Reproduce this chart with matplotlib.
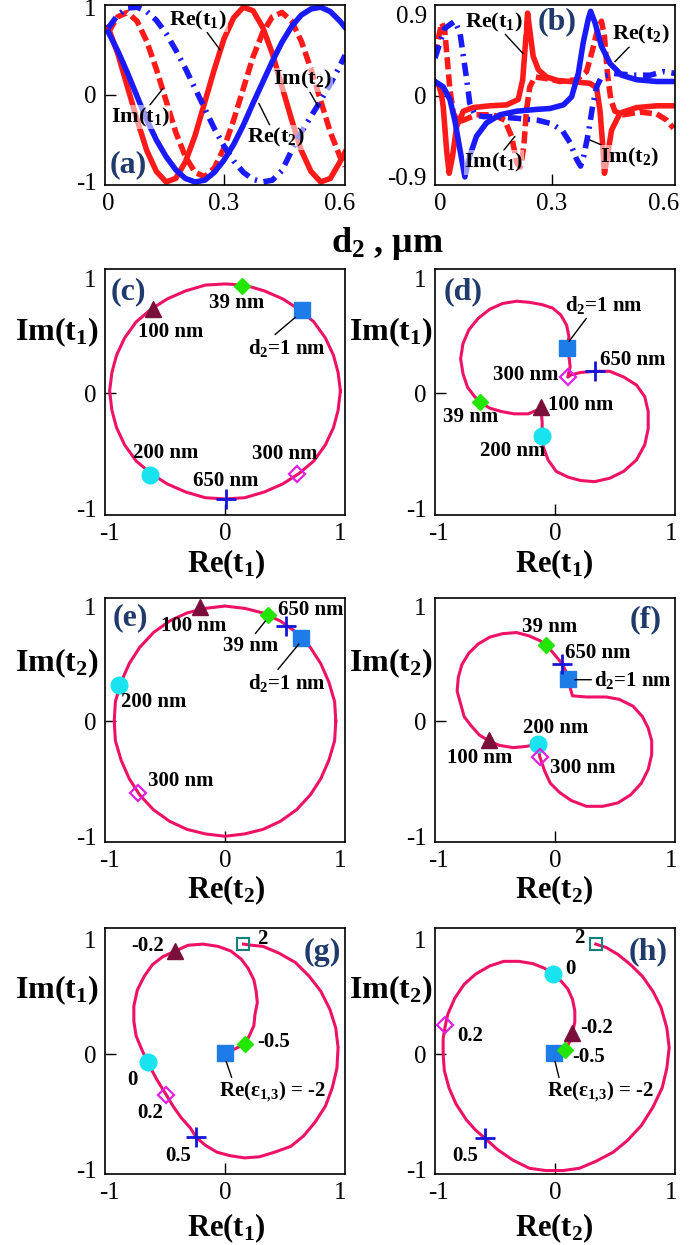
import matplotlib
matplotlib.use("Agg")
import matplotlib.pyplot as plt

plt.rcParams['font.family'] = ['Liberation Serif', 'DejaVu Serif']
plt.rcParams['mathtext.fontset'] = 'custom'
plt.rcParams['mathtext.rm'] = 'Liberation Serif'
plt.rcParams['mathtext.bf'] = 'Liberation Serif:bold'
plt.rcParams['mathtext.it'] = 'Liberation Serif:italic'
plt.rcParams['axes.unicode_minus'] = False

# ---- panel (a): t1, t2 vs d2 (first case)
a_x = [0, 0.025, 0.05, 0.075, 0.1, 0.125, 0.15, 0.175, 0.2, 0.225, 0.25, 0.275, 0.3,
       0.325, 0.35, 0.375, 0.4, 0.425, 0.45, 0.475, 0.5, 0.525, 0.55, 0.575, 0.6, 0.613]
a_re1 = [0.77, 0.47, 0.09, -0.29, -0.64, -0.88, -1.00, -0.96, -0.77, -0.47, -0.09, 0.29, 0.64,
         0.88, 1.00, 0.96, 0.77, 0.47, 0.09, -0.29, -0.64, -0.88, -1.00, -0.96, -0.77, -0.66]
a_im1 = [0.71, 0.89, 0.94, 0.84, 0.61, 0.29, -0.07, -0.43, -0.71, -0.89, -0.94, -0.84, -0.61,
         -0.29, 0.07, 0.43, 0.71, 0.89, 0.94, 0.84, 0.61, 0.29, -0.07, -0.43, -0.71, -0.82]
a_re2 = [0.72, 0.50, 0.25, -0.02, -0.29, -0.52, -0.71, -0.86, -0.96, -1.00, -0.98, -0.89, -0.75,
         -0.57, -0.35, -0.10, 0.14, 0.38, 0.60, 0.78, 0.91, 0.98, 1.00, 0.95, 0.84, 0.77]
a_im2 = [0.76, 0.91, 0.99, 1.00, 0.95, 0.85, 0.70, 0.51, 0.30, 0.07, -0.16, -0.39, -0.59,
         -0.76, -0.89, -0.97, -1.00, -0.98, -0.87, -0.64, -0.43, -0.25, -0.07, 0.12, 0.33, 0.45]

# ---- panel (b): t1, t2 vs d2 (resonant case)
b_re1_x = [-0.013, -0.003, 0.004, 0.009, 0.018, 0.025, 0.034, 0.045, 0.063, 0.089, 0.134, 0.179,
           0.210, 0.222, 0.230, 0.235, 0.241, 0.250, 0.264, 0.286, 0.317, 0.349, 0.402, 0.420,
           0.429, 0.436, 0.441, 0.449, 0.460, 0.483, 0.527, 0.581, 0.630]
b_re1_y = [0.15, 0.12, 0.02, -0.12, -0.60, -0.86, -0.67, -0.34, -0.17, -0.13, -0.11, -0.10,
           -0.04, 0.18, 0.62, 0.92, 0.73, 0.44, 0.29, 0.21, 0.17, 0.16, 0.14, 0.09,
           -0.16, -0.53, -0.86, -0.67, -0.38, -0.19, -0.13, -0.11, -0.11]
b_im1_x = [-0.013, -0.005, 0.005, 0.013, 0.020, 0.027, 0.036, 0.049, 0.063, 0.098, 0.143, 0.174,
           0.192, 0.207, 0.216, 0.225, 0.232, 0.241, 0.255, 0.290, 0.322, 0.366, 0.393, 0.409,
           0.422, 0.433, 0.441, 0.449, 0.458, 0.469, 0.491, 0.536, 0.581, 0.608, 0.626]
b_im1_y = [0.44, 0.62, 0.81, 0.73, 0.40, 0.07, -0.19, -0.29, -0.27, -0.21, -0.21, -0.27,
           -0.45, -0.75, -0.79, -0.56, -0.16, 0.10, 0.21, 0.19, 0.16, 0.18, 0.27, 0.51,
           0.73, 0.83, 0.66, 0.25, -0.04, -0.17, -0.21, -0.18, -0.20, -0.27, -0.36]
b_re2_x = [-0.013, 0.009, 0.027, 0.040, 0.054, 0.067, 0.080, 0.098, 0.125, 0.161, 0.206, 0.259,
           0.295, 0.331, 0.353, 0.371, 0.384, 0.398, 0.404, 0.416, 0.433, 0.456, 0.487, 0.527,
           0.581, 0.630]
b_re2_y = [0.16, 0.10, -0.04, -0.27, -0.60, -0.90, -0.67, -0.45, -0.30, -0.21, -0.17, -0.15,
           -0.14, -0.10, -0.01, 0.25, 0.59, 0.86, 0.94, 0.81, 0.55, 0.36, 0.23, 0.18,
           0.16, 0.16]
b_im2_x = [-0.013, 0.0, 0.013, 0.040, 0.054, 0.063, 0.072, 0.080, 0.094, 0.116, 0.152, 0.210,
           0.262, 0.300, 0.329, 0.349, 0.366, 0.377, 0.386, 0.398, 0.409, 0.420, 0.433, 0.465,
           0.518, 0.563, 0.599, 0.630]
b_im2_y = [0.42, 0.59, 0.75, 0.83, 0.70, 0.44, 0.18, -0.08, -0.21, -0.23, -0.23, -0.25,
           -0.27, -0.31, -0.39, -0.52, -0.70, -0.78, -0.66, -0.41, -0.12, 0.10, 0.21, 0.25,
           0.23, 0.23, 0.27, 0.25]

# ---- panels (c)-(f): complex-plane trajectories vs d2
c_x = [1.00, 0.98, 0.94, 0.87, 0.77, 0.64, 0.50, 0.34, 0.17, 0.00, -0.17, -0.34, -0.50,
       -0.64, -0.77, -0.87, -0.94, -0.98, -1.00, -0.98, -0.94, -0.87, -0.77, -0.64, -0.50,
       -0.34, -0.17, 0.00, 0.17, 0.34, 0.50, 0.64, 0.77, 0.87, 0.94, 0.98, 1.00]
c_y = [0.02, 0.18, 0.33, 0.48, 0.62, 0.73, 0.82, 0.89, 0.94, 0.95, 0.94, 0.89, 0.82,
       0.73, 0.62, 0.48, 0.33, 0.18, 0.02, -0.15, -0.30, -0.45, -0.59, -0.70, -0.79,
       -0.86, -0.91, -0.92, -0.91, -0.86, -0.79, -0.70, -0.59, -0.45, -0.30, -0.15, 0.02]
c_mx = [0.67, 0.15, -0.62, -0.65, 0.62, 0.01]
c_my = [0.72, 0.93, 0.73, -0.71, -0.70, -0.92]

d_x = [0.10, 0.12, 0.10, 0.05, -0.02, -0.11, -0.22, -0.33, -0.45, -0.56, -0.66, -0.74, -0.79,
       -0.81, -0.79, -0.75, -0.69, -0.64, -0.56, -0.46, -0.35, -0.23, -0.16, -0.12, -0.11,
       -0.11, -0.10, -0.06, 0.01, 0.11, 0.22, 0.34, 0.47, 0.59, 0.70, 0.77, 0.80, 0.80, 0.77,
       0.70, 0.59, 0.47, 0.34, 0.22, 0.14, 0.11, 0.13, 0.12, 0.10]
d_y = [0.39, 0.49, 0.59, 0.68, 0.74, 0.77, 0.79, 0.80, 0.78, 0.73, 0.65, 0.55, 0.43,
       0.30, 0.17, 0.05, -0.03, -0.08, -0.13, -0.16, -0.18, -0.18, -0.15, -0.13, -0.26,
       -0.37, -0.47, -0.58, -0.68, -0.73, -0.76, -0.77, -0.74, -0.68, -0.58, -0.45, -0.31, -0.16, -0.03,
       0.07, 0.14, 0.19, 0.19, 0.18, 0.16, 0.14, 0.23, 0.32, 0.39]
d_mx = [0.10, -0.64, -0.12, -0.11, 0.11, 0.34]
d_my = [0.39, -0.08, -0.12, -0.37, 0.14, 0.19]

e_x = [0.96, 0.95, 0.90, 0.83, 0.74, 0.62, 0.48, 0.33, 0.17, 0.00, -0.17, -0.33, -0.48,
       -0.62, -0.74, -0.83, -0.90, -0.95, -0.96, -0.95, -0.90, -0.83, -0.74, -0.62, -0.48,
       -0.33, -0.17, 0.00, 0.17, 0.33, 0.48, 0.62, 0.74, 0.83, 0.90, 0.95, 0.96]
e_y = [0.00, 0.17, 0.34, 0.50, 0.64, 0.77, 0.87, 0.94, 0.98, 1.00, 0.98, 0.94, 0.87,
       0.77, 0.64, 0.50, 0.34, 0.17, 0.00, -0.17, -0.34, -0.50, -0.64, -0.77, -0.87,
       -0.94, -0.98, -1.00, -0.98, -0.94, -0.87, -0.77, -0.64, -0.50, -0.34, -0.17, 0.00]
e_mx = [0.66, 0.37, -0.22, -0.92, -0.75, 0.53]
e_my = [0.72, 0.92, 0.99, 0.31, -0.62, 0.83]

f_x = [0.11, 0.13, 0.15, 0.27, 0.44, 0.55, 0.67, 0.75, 0.80, 0.83, 0.83, 0.80, 0.74, 0.65,
       0.54, 0.41, 0.27, 0.14, 0.04, -0.04, -0.09, -0.13, -0.15, -0.25, -0.36, -0.48, -0.57,
       -0.65, -0.72, -0.78, -0.81, -0.84, -0.83, -0.80, -0.74, -0.66, -0.56, -0.45, -0.33,
       -0.22, -0.13, -0.08, -0.03, 0.06, 0.09, 0.11]
f_y = [0.37, 0.29, 0.22, 0.21, 0.21, 0.19, 0.13, 0.04, -0.06, -0.17, -0.29, -0.42, -0.54, -0.64,
       -0.71, -0.74, -0.74, -0.69, -0.62, -0.54, -0.43, -0.31, -0.20, -0.22, -0.23, -0.21, -0.17,
       -0.12, -0.04, 0.04, 0.15, 0.26, 0.38, 0.49, 0.59, 0.67, 0.73, 0.76, 0.77,
       0.74, 0.70, 0.66, 0.61, 0.50, 0.44, 0.37]
f_mx = [0.11, -0.08, -0.57, -0.15, -0.13, 0.06]
f_my = [0.37, 0.66, -0.16, -0.20, -0.31, 0.50]

# ---- panels (g)-(h): trajectories vs Re(eps_1,3)
g_x = [0.00, 0.09, 0.17, 0.21, 0.25, 0.26, 0.28, 0.27, 0.25, 0.20, 0.14, 0.05, -0.06, -0.19,
       -0.32, -0.43, -0.54, -0.63, -0.70, -0.76, -0.79, -0.79, -0.77, -0.72, -0.67, -0.59,
       -0.51, -0.45, -0.38, -0.30, -0.25, -0.17, -0.07, 0.04, 0.17, 0.30, 0.43, 0.57, 0.68,
       0.78, 0.87, 0.93, 0.97, 0.98, 0.96, 0.91, 0.83, 0.73, 0.61, 0.47, 0.33, 0.23, 0.16]
g_y = [0.01, 0.05, 0.09, 0.16, 0.25, 0.35, 0.45, 0.55, 0.65, 0.75, 0.83, 0.90, 0.94, 0.96,
       0.95, 0.90, 0.85, 0.78, 0.68, 0.56, 0.42, 0.29, 0.16, 0.04, -0.07, -0.22,
       -0.35, -0.45, -0.55, -0.64, -0.72, -0.79, -0.85, -0.88, -0.90, -0.89, -0.85, -0.80, -0.71,
       -0.59, -0.45, -0.29, -0.12, 0.06, 0.23, 0.39, 0.55, 0.68, 0.80, 0.88, 0.94, 0.95, 0.96]
g_mx = [0.00, 0.17, -0.43, -0.67, -0.51, -0.25, 0.16]
g_my = [0.01, 0.09, 0.90, -0.07, -0.35, -0.72, 0.96]

h_x = [-0.01, 0.09, 0.13, 0.15, 0.17, 0.17, 0.15, 0.11, 0.05, -0.02, -0.09, -0.19, -0.31,
       -0.44, -0.56, -0.68, -0.78, -0.86, -0.92, -0.94, -0.96, -0.96, -0.95, -0.91, -0.85,
       -0.76, -0.68, -0.60, -0.49, -0.36, -0.22, -0.08, 0.07, 0.21, 0.35, 0.50, 0.62, 0.74,
       0.84, 0.92, 0.96, 0.98, 0.96, 0.91, 0.84, 0.75, 0.65, 0.54, 0.44, 0.35]
h_y = [0.01, 0.04, 0.12, 0.19, 0.28, 0.38, 0.48, 0.57, 0.64, 0.70, 0.75, 0.79, 0.81,
       0.81, 0.77, 0.70, 0.61, 0.49, 0.35, 0.26, 0.14, 0.00, -0.14, -0.29, -0.43,
       -0.57, -0.66, -0.73, -0.83, -0.92, -0.99, -1.01, -1.01, -0.99, -0.93, -0.85, -0.75, -0.62,
       -0.46, -0.29, -0.12, 0.06, 0.23, 0.41, 0.55, 0.68, 0.78, 0.87, 0.93, 0.96]
h_mx = [-0.01, 0.09, 0.15, -0.02, -0.94, -0.60, 0.35]
h_my = [0.01, 0.04, 0.19, 0.70, 0.26, -0.73, 0.96]

W, H = 692, 1245
RED = '#ff1a1a'
BLUE = '#1a1aff'
PINK = '#ee1166'
NAVY = '#1f3a6b'

# marker styles: square, filled diamond, triangle, circle, open diamond, plus, open square
MSTYLE = [
    dict(marker='s', ms=11, mfc='#1e7ce8', mec='#1e7ce8'),
    dict(marker='D', ms=8, mfc='#22e600', mec='#22e600'),
    dict(marker='^', ms=12, mfc='#7a0f3c', mec='#7a0f3c'),
    dict(marker='o', ms=12, mfc='#19e3ee', mec='#19e3ee'),
    dict(marker='D', ms=8, mfc='none', mec='#e31ee3', mew=1.6),
    dict(marker='+', ms=14, mfc='none', mec='#1414dc', mew=2),
    dict(marker='s', ms=8, mfc='none', mec='#168080', mew=1.5),
]

fig = plt.figure(figsize=(W / 100, H / 100), dpi=100)


def box(l, t, r, b):
    return [l / W, 1 - b / H, (r - l) / W, (b - t) / H]


def make_ax(l, t, r, b, xlim, ylim, xt, xtl, yt, ytl):
    ax = fig.add_axes(box(l, t, r, b))
    ax.set_xlim(xlim)
    ax.set_ylim(ylim)
    ax.set_xticks(xt)
    ax.set_xticklabels(xtl)
    ax.set_yticks(yt)
    ax.set_yticklabels(ytl)
    ax.tick_params(direction='in', length=8, width=1, labelsize=18, pad=6,
                   top=False, right=False)
    for tk in [ax.xaxis.get_major_ticks()[0], ax.xaxis.get_major_ticks()[-1],
               ax.yaxis.get_major_ticks()[0], ax.yaxis.get_major_ticks()[-1]]:
        tk.tick1line.set_visible(False)
    for sp in ax.spines.values():
        sp.set_linewidth(1.2)
    return ax


def ftext(x, y, s, **kw):
    fig.text(x / W, 1 - y / H, s, ha='center', va='center', **kw)


def lab(ax, s, x, y, tx=None, ty=None, size=15, bg=False, rel=(0.5, 0.5)):
    kw = dict(ha='center', va='center', fontsize=size, fontweight='bold', zorder=6)
    if bg:
        kw['bbox'] = dict(fc='white', ec='none', alpha=0.55, pad=0.5)
    if tx is None:
        ax.text(x, y, s, **kw)
    else:
        ax.annotate(s, xy=(tx, ty), xytext=(x, y),
                    arrowprops=dict(arrowstyle='-', color='k', lw=1, relpos=rel,
                                    shrinkA=0, shrinkB=0), **kw)


def marks(ax, mx, my):
    for i in range(len(mx)):
        ax.plot([mx[i]], [my[i]], ls='none', zorder=5, **MSTYLE[i])


EPS = r'Re($\mathbf{ε_{1,\!3}}$) = -2'

# (a)
ax = make_ax(105, 5, 345, 185, (-0.008, 0.613), (-1.035, 1.025),
             [0, 0.3, 0.6], ['0', '0.3', '0.6'], [-1, 0, 1], ['-1', '0', '1'])
ax.plot(a_x, a_re1, color=RED, lw=4)
ax.plot(a_x, a_im1, color=RED, lw=4, dashes=(2.2, 0.9))
ax.plot(a_x, a_re2, color=BLUE, lw=4)
ax.plot(a_x, a_im2, color=BLUE, lw=4, dashes=(2.4, 1.2, 0.4, 1.2))
lab(ax, r'Re($\mathbf{t_1}$)', 0.233, 0.85, 0.29, 0.51, size=16, bg=True)
lab(ax, r'Im($\mathbf{t_1}$)', 0.083, -0.26, 0.142, 0.07, size=16, bg=True)
lab(ax, r'Im($\mathbf{t_2}$)', 0.504, 0.17, 0.544, -0.14, size=16, bg=True)
lab(ax, r'Re($\mathbf{t_2}$)', 0.434, -0.49, 0.39, -0.10, size=16, bg=True)
ftext(128, 165, '(a)', fontsize=23, fontweight='bold', color=NAVY)

# (b)
ax = make_ax(435, 5, 675, 185, (-0.013, 0.63), (-0.99, 1.01),
             [0, 0.3, 0.6], ['0', '0.3', '0.6'], [-0.9, 0, 0.9], ['-0.9', '0', '0.9'])
ax.plot(b_re1_x, b_re1_y, color=RED, lw=4)
ax.plot(b_im1_x, b_im1_y, color=RED, lw=4, dashes=(2.2, 0.9))
ax.plot(b_re2_x, b_re2_y, color=BLUE, lw=4)
ax.plot(b_im2_x, b_im2_y, color=BLUE, lw=4, dashes=(2.4, 1.2, 0.4, 1.2))
lab(ax, r'Re($\mathbf{t_1}$)', 0.145, 0.82, 0.223, 0.47, size=16, bg=True)
lab(ax, r'Re($\mathbf{t_2}$)', 0.539, 0.68, 0.469, 0.38, size=16, bg=True)
lab(ax, r'Im($\mathbf{t_1}$)', 0.145, -0.74, 0.201, -0.45, size=16, bg=True)
lab(ax, r'Im($\mathbf{t_2}$)', 0.509, -0.68, 0.402, -0.49, size=16, bg=True)
ftext(557, 22, '(b)', fontsize=23, fontweight='bold', color=NAVY)
ftext(387, 244, r'$\mathbf{d_2}$ , μm', fontsize=26, fontweight='bold')

unit = [-1, 0, 1]
unit_l = ['-1', '0', '1']

# (c)
ax = make_ax(105, 269, 345, 515, (-1.04, 1.04), (-1.06, 1.08), unit, unit_l, unit, unit_l)
ax.plot(c_x, c_y, color=PINK, lw=2.2)
marks(ax, c_mx, c_my)
lab(ax, '39 nm', 0.10, 0.78)
lab(ax, '100 nm', -0.47, 0.53)
lab(ax, r'$\mathbf{d_2}$=1 nm', 0.54, 0.39, 0.61, 0.66, rel=(0.3, 1.0))
lab(ax, '200 nm', -0.51, -0.52)
lab(ax, '300 nm', 0.52, -0.53)
lab(ax, '650 nm', 0.01, -0.76)
ftext(128, 292, '(c)', fontsize=23, fontweight='bold', color=NAVY)
ftext(57, 332, r'Im($\mathbf{t_1}$)', fontsize=23, fontweight='bold')
ftext(226, 564, r'Re($\mathbf{t_1}$)', fontsize=22, fontweight='bold')

# (d)
ax = make_ax(435, 269, 675, 515, (-1.03, 1.03), (-1.06, 1.08), unit, unit_l, unit, unit_l)
ax.plot(d_x, d_y, color=PINK, lw=2.2)
marks(ax, d_mx, d_my)
lab(ax, r'$\mathbf{d_2}$=1 nm', 0.42, 0.77, 0.12, 0.45, rel=(0.3, 0.0))
lab(ax, '650 nm', 0.67, 0.29)
lab(ax, '300 nm', -0.25, 0.16)
lab(ax, '100 nm', 0.22, -0.10)
lab(ax, '39 nm', -0.72, -0.21)
lab(ax, '200 nm', -0.36, -0.50)
ftext(463, 292, '(d)', fontsize=23, fontweight='bold', color=NAVY)
ftext(391, 332, r'Im($\mathbf{t_1}$)', fontsize=23, fontweight='bold')
ftext(554, 564, r'Re($\mathbf{t_1}$)', fontsize=22, fontweight='bold')

# (e)
ax = make_ax(105, 598, 345, 842, (-1.04, 1.04), (-1.05, 1.07), unit, unit_l, unit, unit_l)
ax.plot(e_x, e_y, color=PINK, lw=2.2)
marks(ax, e_mx, e_my)
lab(ax, '100 nm', -0.27, 0.83)
lab(ax, '650 nm', 0.74, 0.97)
lab(ax, '39 nm', 0.22, 0.65, 0.35, 0.87, rel=(0.55, 1.0))
lab(ax, r'$\mathbf{d_2}$=1 nm', 0.54, 0.33, 0.64, 0.67, rel=(0.35, 1.0))
lab(ax, '200 nm', -0.62, 0.17)
lab(ax, '300 nm', -0.38, -0.52)
ftext(130, 618, '(e)', fontsize=23, fontweight='bold', color=NAVY)
ftext(57, 663, r'Im($\mathbf{t_2}$)', fontsize=23, fontweight='bold')
ftext(226, 890, r'Re($\mathbf{t_2}$)', fontsize=22, fontweight='bold')

# (f)
ax = make_ax(435, 598, 675, 842, (-1.03, 1.03), (-1.05, 1.07), unit, unit_l, unit, unit_l)
ax.plot(f_x, f_y, color=PINK, lw=2.2)
marks(ax, f_mx, f_my)
lab(ax, '39 nm', -0.05, 0.82)
lab(ax, '650 nm', 0.37, 0.59)
lab(ax, r'$\mathbf{d_2}$=1 nm', 0.67, 0.36, 0.17, 0.36)
lab(ax, '200 nm', 0.01, -0.06)
lab(ax, '100 nm', -0.65, -0.32)
lab(ax, '300 nm', 0.24, -0.41)
ftext(646, 620, '(f)', fontsize=23, fontweight='bold', color=NAVY)
ftext(391, 663, r'Im($\mathbf{t_2}$)', fontsize=23, fontweight='bold')
ftext(554, 890, r'Re($\mathbf{t_2}$)', fontsize=22, fontweight='bold')

# (g)
ax = make_ax(105, 928, 345, 1174, (-1.04, 1.04), (-1.04, 1.10), unit, unit_l, unit, unit_l)
ax.plot(g_x, g_y, color=PINK, lw=2.2)
marks(ax, g_mx, g_my)
lab(ax, '-0.2', -0.67, 0.94)
lab(ax, '2', 0.32, 1.00)
lab(ax, '-0.5', 0.42, 0.11)
lab(ax, EPS, 0.41, -0.33, 0.01, -0.06, rel=(0.13, 1.0))
lab(ax, '0', -0.80, -0.22)
lab(ax, '0.2', -0.65, -0.51)
lab(ax, '0.5', -0.41, -0.88)
ftext(322, 952, '(g)', fontsize=23, fontweight='bold', color=NAVY)
ftext(57, 990, r'Im($\mathbf{t_1}$)', fontsize=23, fontweight='bold')
ftext(226, 1228, r'Re($\mathbf{t_1}$)', fontsize=22, fontweight='bold')

# (h)
ax = make_ax(435, 928, 675, 1174, (-1.03, 1.03), (-1.04, 1.10), unit, unit_l, unit, unit_l)
ax.plot(h_x, h_y, color=PINK, lw=2.2)
marks(ax, h_mx, h_my)
lab(ax, '2', 0.21, 1.01)
lab(ax, '0', 0.13, 0.74)
lab(ax, '-0.2', 0.36, 0.23)
lab(ax, '-0.5', 0.29, -0.02)
lab(ax, EPS, 0.39, -0.33, 0.0, -0.06, rel=(0.12, 1.0))
lab(ax, '0.2', -0.73, 0.16)
lab(ax, '0.5', -0.77, -0.88)
ftext(648, 952, '(h)', fontsize=23, fontweight='bold', color=NAVY)
ftext(391, 990, r'Im($\mathbf{t_2}$)', fontsize=23, fontweight='bold')
ftext(554, 1228, r'Re($\mathbf{t_2}$)', fontsize=22, fontweight='bold')

fig.savefig('out.png', dpi=100)
